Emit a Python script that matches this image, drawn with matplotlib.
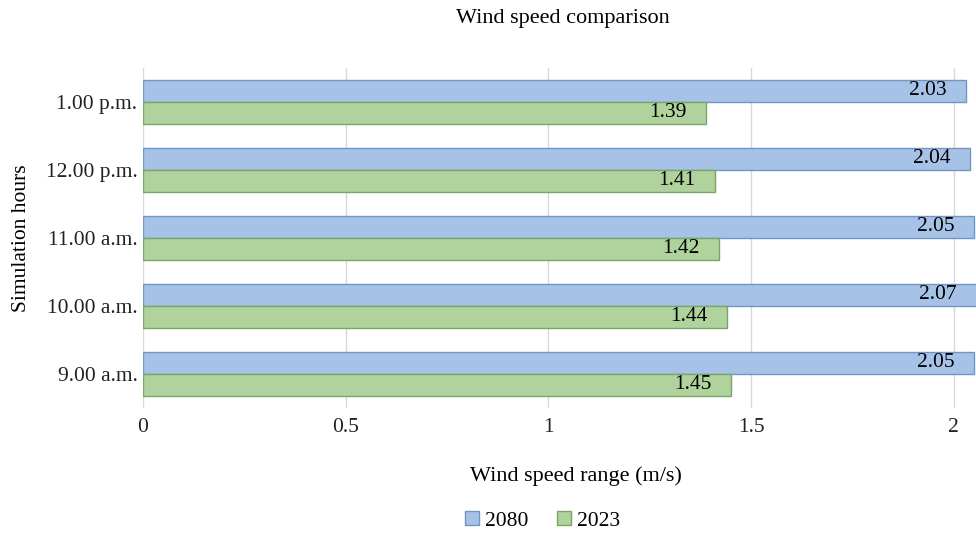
import numpy as np
import matplotlib.pyplot as plt
from matplotlib.patches import Patch

plt.rcParams['font.family'] = ['Liberation Serif', 'DejaVu Serif']

hours = ['9.00 a.m.', '10.00 a.m.', '11.00 a.m.', '12.00 p.m.', '1.00 p.m.']
speed_2080 = [2.05, 2.07, 2.05, 2.04, 2.03]
speed_2023 = [1.45, 1.44, 1.42, 1.41, 1.39]

blue = '#a6c3e7'
blue_edge = '#7196c4'
green = '#b0d39e'
green_edge = '#7ba565'

fs = 15.5

fig = plt.figure(figsize=(9.76, 5.34), dpi=100)
ax = fig.add_axes([0.1465, 0.236, 0.8535, 0.637])

y = np.arange(len(hours))
h = 0.324

ax.barh(y + h / 2, speed_2080, height=h, color=blue, edgecolor=blue_edge, linewidth=1, zorder=3)
ax.barh(y - h / 2, speed_2023, height=h, color=green, edgecolor=green_edge, linewidth=1, zorder=3)

for yi, v in zip(y, speed_2080):
    ax.annotate(f'{v:.2f}', xy=(min(v, 2.055), yi + h / 2), xytext=(-14, 0),
                textcoords='offset points', ha='right', va='center',
                fontsize=fs, zorder=4, annotation_clip=False)
for yi, v in zip(y, speed_2023):
    ax.annotate(f'{v:.2f}', xy=(v, yi - h / 2), xytext=(-14, 0),
                textcoords='offset points', ha='right', va='center',
                fontsize=fs, zorder=4)

ax.set_xlim(0, 2.055)
ax.set_ylim(-0.5, len(hours) - 0.5)
ax.set_xticks([0, 0.5, 1, 1.5, 2])
ax.set_xticklabels(['0', '0.5', '1', '1.5', '2'])
ax.set_yticks(y)
ax.set_yticklabels(hours)
ax.tick_params(axis='both', length=0, labelsize=fs, colors='#222222')
ax.tick_params(axis='x', pad=7)
ax.tick_params(axis='y', pad=4)
ax.grid(axis='x', color='#d9d9d9', linewidth=1, zorder=0)
for s in ax.spines.values():
    s.set_visible(False)

ax.set_xlabel('Wind speed range (m/s)', fontsize=16)
ax.xaxis.set_label_coords(0.52, -0.172)
ax.set_ylabel('Simulation hours', fontsize=fs)
ax.yaxis.set_label_coords(-0.135, 0.5)
fig.text(0.577, 0.965, 'Wind speed comparison', ha='center', va='center', fontsize=16)

handles = [Patch(facecolor=blue, edgecolor=blue_edge, label='2080'),
           Patch(facecolor=green, edgecolor=green_edge, label='2023')]
fig.legend(handles=handles, loc='center', bbox_to_anchor=(0.556, 0.025), ncol=2,
           frameon=False, fontsize=fs, handlelength=0.65, handleheight=0.65,
           handletextpad=0.3, columnspacing=1.3)

fig.savefig('out.png', dpi=100)
